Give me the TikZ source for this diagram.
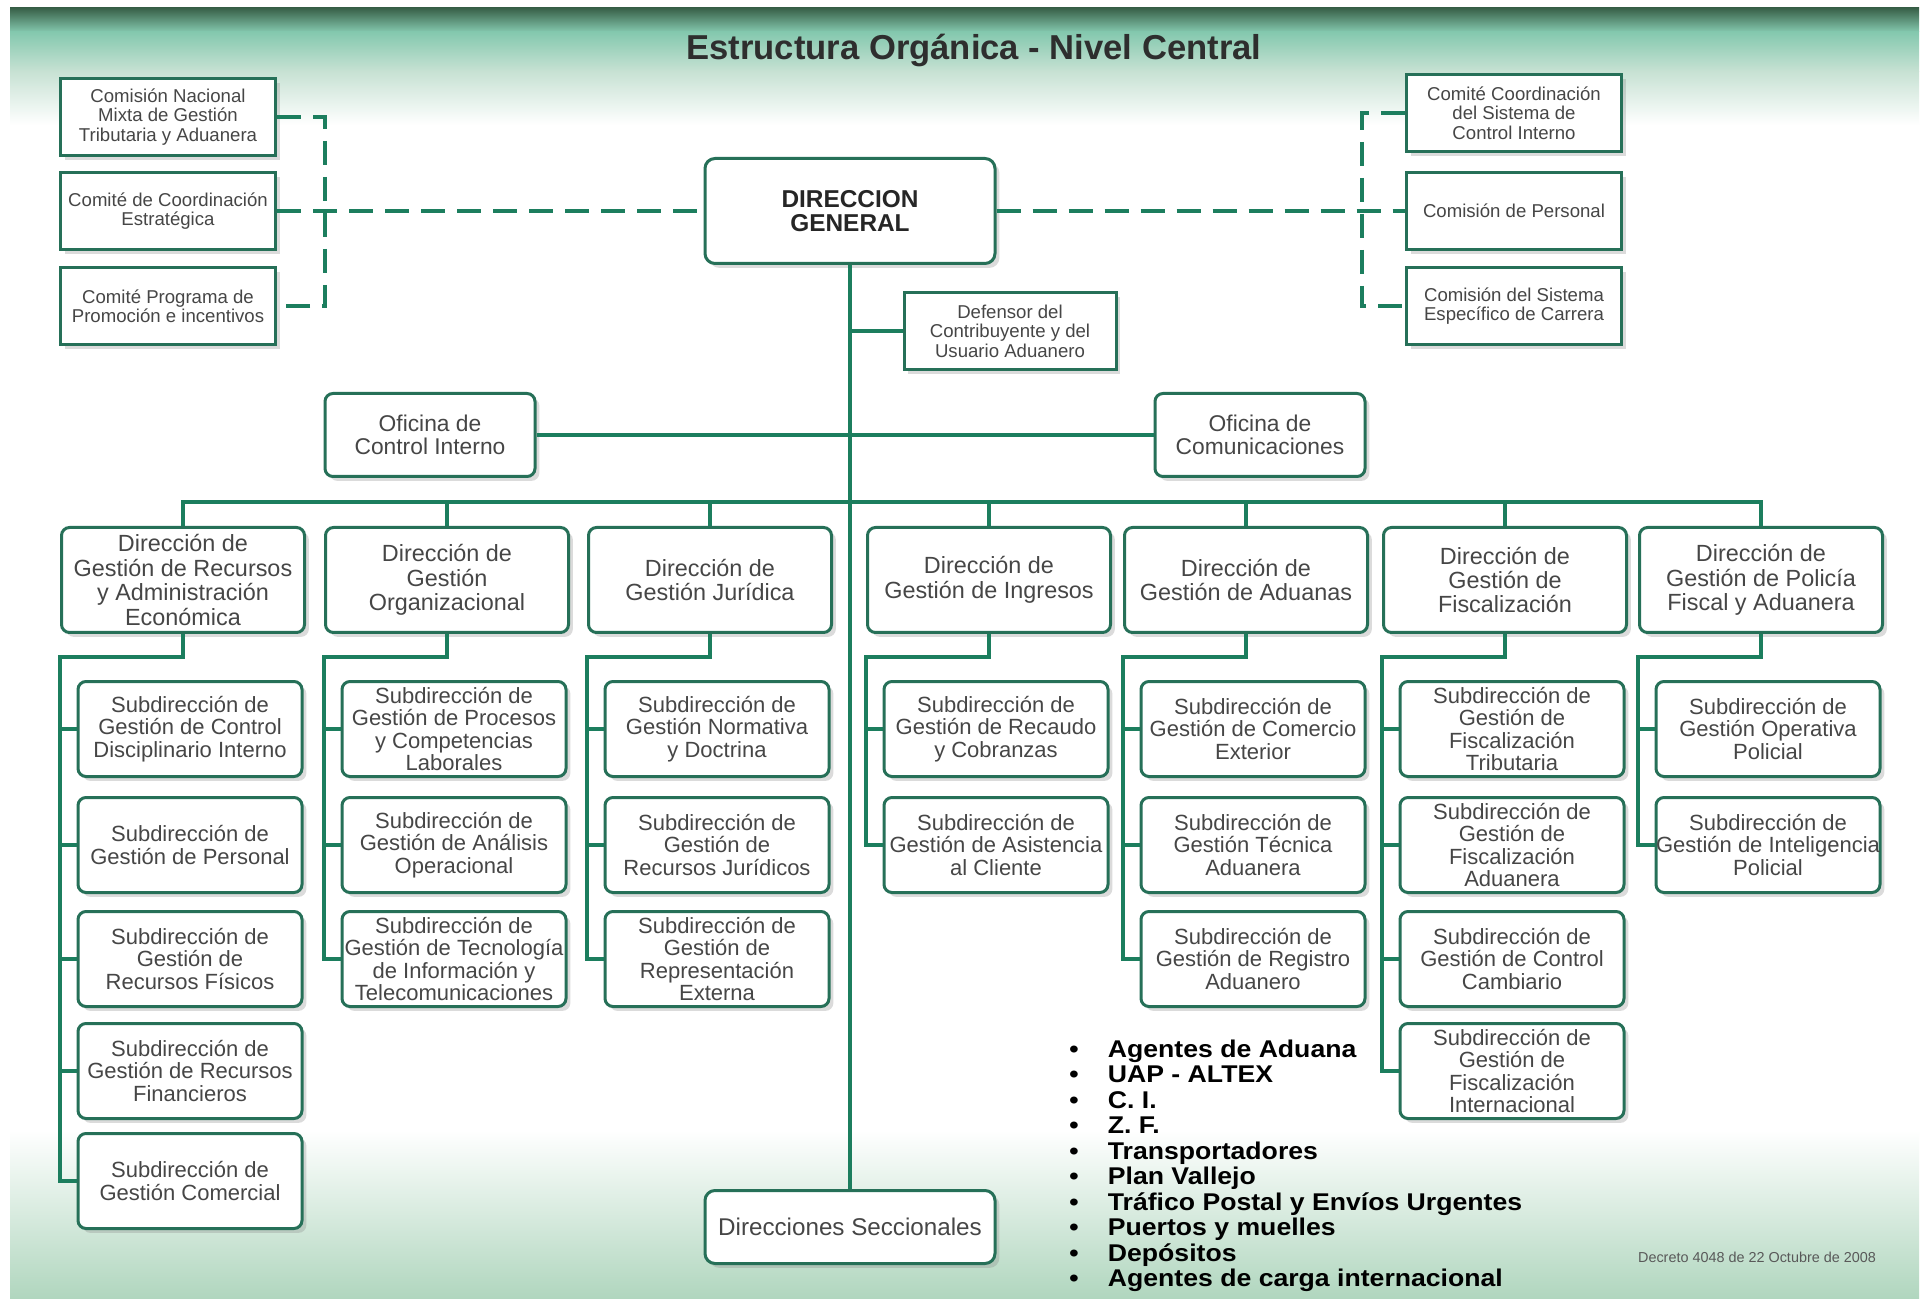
\documentclass[tikz,border=0pt]{standalone}
\usepackage{fontspec}
\setmainfont{Liberation Sans}
\newfontfamily\listfont[FakeStretch=1.1]{Liberation Sans}
\usetikzlibrary{shadows}
\definecolor{lineG}{RGB}{28,126,94}
\definecolor{boxG}{RGB}{38,112,88}
\definecolor{txtG}{RGB}{70,70,70}
\definecolor{bandD}{RGB}{56,96,72}
\definecolor{bandT}{RGB}{132,200,174}
\definecolor{bandL}{RGB}{200,226,212}
\definecolor{footG}{RGB}{176,214,190}

\begin{document}
\begin{tikzpicture}[x=0.5pt,y=-0.5pt,
  conn/.style={draw=lineG,line width=1.9pt},
  dashconn/.style={draw=lineG,line width=1.9pt,dash pattern=on 12pt off 6pt},
  box/.style={draw=boxG,line width=1.5pt,fill=white,inner sep=0pt,align=center,text=txtG,
    drop shadow={opacity=0.28,shadow xshift=2.2pt,shadow yshift=-2.2pt}},
  comm/.style={box,minimum width=107.5pt,minimum height=38.5pt,font=\fontsize{9.3}{9.7}\selectfont},
  mainbox/.style={box,rounded corners=5pt,minimum width=145pt,minimum height=52.5pt,text=black!85,
    font=\bfseries\fontsize{12.2}{11.7}\selectfont},
  ofic/.style={box,rounded corners=4pt,minimum width=105pt,minimum height=41.5pt,font=\fontsize{11.4}{11.7}\selectfont},
  dirbox/.style={box,rounded corners=4pt,minimum width=121.5pt,minimum height=52.5pt,font=\fontsize{11.7}{12.2}\selectfont},
  subbox/.style={box,rounded corners=4pt,minimum width=112pt,minimum height=47.5pt,font=\fontsize{11}{11.25}\selectfont}]

\useasboundingbox (0,0) rectangle (1929,1299);
\fill[white] (0,0) rectangle (1929,1299);
\shade[top color=bandD,bottom color=bandT] (10,8) rectangle (1919,32);
\shade[top color=bandT,bottom color=bandL] (10,32) rectangle (1919,72);
\shade[top color=bandL,bottom color=white] (10,72) rectangle (1919,125);
\shade[top color=white,bottom color=footG] (10,1130) rectangle (1919,1299);

\node (title) at (974,60) [anchor=base,text=black!82,font=\bfseries\fontsize{17.3}{20}\selectfont] {Estructura Orgánica - Nivel Central};

\node (cnm) at (168,117) [comm] {Comisión Nacional\\Mixta de Gestión\\Tributaria y Aduanera};
\node (cce) at (168,211) [comm] {Comité de Coordinación\\Estratégica};
\node (cpp) at (168,306) [comm] {Comité Programa de\\Promoción e incentivos};
\node (ccs) at (1514,113) [comm] {Comité Coordinación\\del Sistema de\\Control Interno};
\node (cpe) at (1514,211) [comm] {Comisión de Personal};
\node (cse) at (1514,306) [comm] {Comisión del Sistema\\Específico de Carrera};

\node (dg) at (850,211) [mainbox] {DIRECCION\\GENERAL};
\node (def) at (1010,331) [comm,minimum width=106pt] {Defensor del\\Contribuyente y del\\Usuario Aduanero};
\node (oci) at (430,435) [ofic] {Oficina de\\Control Interno};
\node (ocom) at (1260,435) [ofic] {Oficina de\\Comunicaciones};

\node (d1) at (183,580) [dirbox] {Dirección de\\Gestión de Recursos\\y Administración\\Económica};
\node (d2) at (447,580) [dirbox] {Dirección de\\Gestión\\Organizacional};
\node (d3) at (710,580) [dirbox] {Dirección de\\Gestión Jurídica};
\node (d4) at (989,580) [dirbox] {Dirección de\\Gestión de Ingresos};
\node (d5) at (1246,580) [dirbox] {Dirección de\\Gestión de Aduanas};
\node (d6) at (1505,580) [dirbox] {Dirección de\\Gestión de\\Fiscalización};
\node (d7) at (1761,580) [dirbox] {Dirección de\\Gestión de Policía\\Fiscal y Aduanera};

\node (s11) at (190,729) [subbox] {Subdirección de\\Gestión de Control\\Disciplinario Interno};
\node (s12) at (190,845) [subbox] {Subdirección de\\Gestión de Personal};
\node (s13) at (190,959) [subbox] {Subdirección de\\Gestión de\\Recursos Físicos};
\node (s14) at (190,1071) [subbox] {Subdirección de\\Gestión de Recursos\\Financieros};
\node (s15) at (190,1181) [subbox] {Subdirección de\\Gestión Comercial};

\node (s21) at (454,729) [subbox] {Subdirección de\\Gestión de Procesos\\y Competencias\\Laborales};
\node (s22) at (454,845) [subbox] {Subdirección de\\Gestión de Análisis\\Operacional};
\node (s23) at (454,959) [subbox] {Subdirección de\\Gestión de Tecnología\\de Información y\\Telecomunicaciones};

\node (s31) at (717,729) [subbox] {Subdirección de\\Gestión Normativa\\y Doctrina};
\node (s32) at (717,845) [subbox] {Subdirección de\\Gestión de\\Recursos Jurídicos};
\node (s33) at (717,959) [subbox] {Subdirección de\\Gestión de\\Representación\\Externa};

\node (s41) at (996,729) [subbox] {Subdirección de\\Gestión de Recaudo\\y Cobranzas};
\node (s42) at (996,845) [subbox] {Subdirección de\\Gestión de Asistencia\\al Cliente};

\node (s51) at (1253,729) [subbox] {Subdirección de\\Gestión de Comercio\\Exterior};
\node (s52) at (1253,845) [subbox] {Subdirección de\\Gestión Técnica\\Aduanera};
\node (s53) at (1253,959) [subbox] {Subdirección de\\Gestión de Registro\\Aduanero};

\node (s61) at (1512,729) [subbox] {Subdirección de\\Gestión de\\Fiscalización\\Tributaria};
\node (s62) at (1512,845) [subbox] {Subdirección de\\Gestión de\\Fiscalización\\Aduanera};
\node (s63) at (1512,959) [subbox] {Subdirección de\\Gestión de Control\\Cambiario};
\node (s64) at (1512,1071) [subbox] {Subdirección de\\Gestión de\\Fiscalización\\Internacional};

\node (s71) at (1768,729) [subbox] {Subdirección de\\Gestión Operativa\\Policial};
\node (s72) at (1768,845) [subbox] {Subdirección de\\Gestión de Inteligencia\\Policial};

\node (ds) at (850,1227) [box,rounded corners=5pt,minimum width=145pt,minimum height=36.5pt,font=\fontsize{12.1}{12.5}\selectfont] {Direcciones Seccionales};

\node (lista) at (1069,1057) [anchor=base west,inner sep=0pt,font=\listfont\bfseries\fontsize{12.1}{12.75}\selectfont] {%
\begin{tabular}[t]{@{}p{19.25pt}@{}l@{}}
• & Agentes de Aduana\\
• & UAP - ALTEX\\
• & C. I.\\
• & Z. F.\\
• & Transportadores\\
• & Plan Vallejo\\
• & Tráfico Postal y Envíos Urgentes\\
• & Puertos y muelles\\
• & Depósitos\\
• & Agentes de carga internacional
\end{tabular}};
\node (decreto) at (1757,1257) [text=black!65,font=\fontsize{7.2}{8}\selectfont] {Decreto 4048 de 22 Octubre de 2008};

\coordinate (lj) at (325,211);
\coordinate (rj) at (1362,211);
\draw[dashconn] (cnm.east) -| (lj) |- (cpp.east);
\draw[dashconn] (cce.east) -- (dg.west);
\draw[dashconn] (ccs.west) -| (rj) |- (cse.west);
\draw[dashconn] (dg.east) -- (cpe.west);

\draw[conn] (dg.south) -- (ds.north);
\draw[conn] (def.west) -- (def.west -| dg.south);
\draw[conn] (oci.east) -- (ocom.west);

\coordinate (bus) at (850,502);
\draw[conn] (d1.north) |- (bus) -| (d7.north);
\draw[conn] (d2.north) -- (d2.north |- bus);
\draw[conn] (d3.north) -- (d3.north |- bus);
\draw[conn] (d4.north) -- (d4.north |- bus);
\draw[conn] (d5.north) -- (d5.north |- bus);
\draw[conn] (d6.north) -- (d6.north |- bus);

\coordinate (j1) at (d1.west |- 0,657);
\draw[conn] (d1.south) |- (j1) |- (s15.west);
\draw[conn] (s11.west) -- (s11.west -| j1);
\draw[conn] (s12.west) -- (s12.west -| j1);
\draw[conn] (s13.west) -- (s13.west -| j1);
\draw[conn] (s14.west) -- (s14.west -| j1);

\coordinate (j2) at (d2.west |- 0,657);
\draw[conn] (d2.south) |- (j2) |- (s23.west);
\draw[conn] (s21.west) -- (s21.west -| j2);
\draw[conn] (s22.west) -- (s22.west -| j2);

\coordinate (j3) at (d3.west |- 0,657);
\draw[conn] (d3.south) |- (j3) |- (s33.west);
\draw[conn] (s31.west) -- (s31.west -| j3);
\draw[conn] (s32.west) -- (s32.west -| j3);

\coordinate (j4) at (d4.west |- 0,657);
\draw[conn] (d4.south) |- (j4) |- (s42.west);
\draw[conn] (s41.west) -- (s41.west -| j4);

\coordinate (j5) at (d5.west |- 0,657);
\draw[conn] (d5.south) |- (j5) |- (s53.west);
\draw[conn] (s51.west) -- (s51.west -| j5);
\draw[conn] (s52.west) -- (s52.west -| j5);

\coordinate (j6) at (d6.west |- 0,657);
\draw[conn] (d6.south) |- (j6) |- (s64.west);
\draw[conn] (s61.west) -- (s61.west -| j6);
\draw[conn] (s62.west) -- (s62.west -| j6);
\draw[conn] (s63.west) -- (s63.west -| j6);

\coordinate (j7) at (d7.west |- 0,657);
\draw[conn] (d7.south) |- (j7) |- (s72.west);
\draw[conn] (s71.west) -- (s71.west -| j7);
\end{tikzpicture}
\end{document}
